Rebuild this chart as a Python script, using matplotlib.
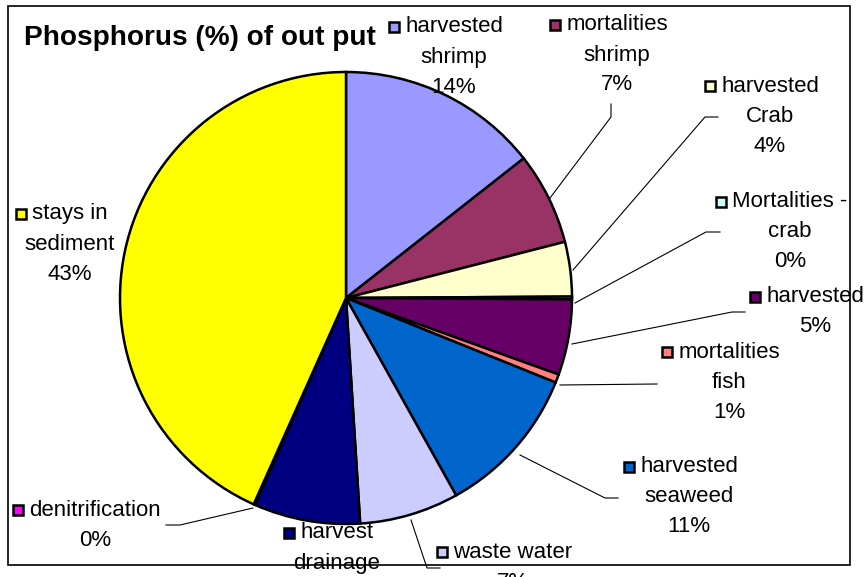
import matplotlib.pyplot as plt
from matplotlib.patches import Rectangle
from matplotlib.lines import Line2D

plt.rcParams['font.family'] = ['Liberation Sans', 'DejaVu Sans']

# Phosphorus output shares (%), clockwise from 12 o'clock
categories = ["harvested\nshrimp", "mortalities\nshrimp", "harvested\nCrab",
              "Mortalities -\ncrab", "harvested", "mortalities\nfish",
              "harvested\nseaweed", "waste water", "harvest\ndrainage",
              "denitrification", "stays in\nsediment"]
values = [14.4, 6.6, 3.9, 0.2, 5.4, 0.6, 10.8, 7.1, 7.6, 0.1, 43.3]
colors = ["#9999FF", "#993366", "#FFFFCC", "#CCFFFF", "#660066", "#FF8080",
          "#0066CC", "#CCCCFF", "#000080", "#FF00FF", "#FFFF00"]

W, H = 864, 577
fig = plt.figure(figsize=(W / 100, H / 100), dpi=100)


def fx(x):
    return x / W


def fy(y):
    return 1 - y / H


# pie: centre (346, 298), radius 226 px
cx, cy, r = 346, 298, 226
ax = fig.add_axes([fx(cx - r), fy(cy + r), 2 * r / W, 2 * r / H])
ax.pie(values, colors=colors, startangle=90, counterclock=False,
       wedgeprops=dict(edgecolor="black", linewidth=1.8))
ax.set_xlim(-1, 1)
ax.set_ylim(-1, 1)
ax.set_aspect("auto")
ax.axis("off")

# label centre (x, y of first line) and leader line points (pixels)
label_pos = [(454, 27), (617, 25), (770, 86), (790, 202), (815, 297),
             (729, 352), (689, 467), (513, 552), (337, 533), (95, 510),
             (70, 214)]
leaders = [None,
           [(611, 104), (611, 117), (550, 198)],
           [(718, 117), (705, 117), (573, 270)],
           [(720, 232), (706, 232), (575, 303)],
           [(745, 312), (732, 312), (572, 344)],
           [(657, 384), (560, 385)],
           [(618, 498), (605, 498), (520, 455)],
           [(440, 568), (427, 568), (411, 520)],
           None,
           [(166, 525), (180, 525), (253, 508)],
           None]

fs = 16
for cat, val, col, (lx, ly), lead in zip(categories, values, colors,
                                          label_pos, leaders):
    pct = f"{round(val + 1e-9):.0f}%"
    lines = cat.split("\n") + [pct]
    for i, line in enumerate(lines):
        fig.text(fx(lx), fy(ly + 30 * i), line, ha="center", va="center",
                 fontsize=fs)
    # legend key left of first line
    tmp = fig.text(0, 0, lines[0], fontsize=fs)
    fig.canvas.draw()
    w = tmp.get_window_extent().width
    tmp.remove()
    kx = lx - w / 2 - 11
    fig.add_artist(Rectangle((fx(kx - 5), fy(ly + 5)), 10 / W, 10 / H,
                             facecolor=col, edgecolor="black", linewidth=1.8))
    if lead:
        xs = [fx(p[0]) for p in lead]
        ys = [fy(p[1]) for p in lead]
        fig.add_artist(Line2D(xs, ys, color="black", linewidth=0.8))

fig.text(fx(24), fy(38), "Phosphorus (%) of out put", fontsize=20.2,
         fontweight="bold", ha="left", va="center")

# plot area frame
fig.add_artist(Rectangle((fx(8), fy(565)), 842 / W, 559 / H, fill=False,
                         edgecolor="black", linewidth=1.2))

fig.savefig("out.png", dpi=100, facecolor="white")
